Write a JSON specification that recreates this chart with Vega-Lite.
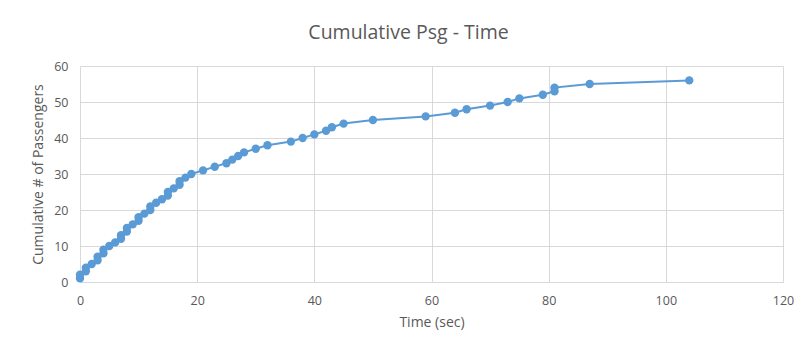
{
  "$schema": "https://vega.github.io/schema/vega-lite/v6.json",
  "width": 703,
  "height": 216,
  "autosize": {"type": "none"},
  "padding": {"left": 80, "top": 66, "right": 20, "bottom": 68},
  "background": "white",
  "title": {
    "text": "Cumulative Psg - Time",
    "font": "Open Sans",
    "fontSize": 19.5,
    "fontWeight": "normal",
    "color": "#595959",
    "anchor": "middle",
    "dx": -23,
    "offset": 17
  },
  "config": {
    "view": {"stroke": null},
    "font": "Open Sans",
    "axis": {
      "gridColor": "#D9D9D9",
      "gridWidth": 1,
      "ticks": false,
      "labelFlush": false,
      "labelColor": "#595959",
      "labelFont": "Open Sans",
      "labelFontSize": 12.5,
      "titleColor": "#595959",
      "titleFont": "Open Sans",
      "titleFontSize": 14,
      "titleFontWeight": "normal"
    }
  },
  "data": {
    "values": [
      {"t": 0, "n": 1}, {"t": 0, "n": 2}, {"t": 1, "n": 3}, {"t": 1, "n": 4},
      {"t": 2, "n": 5}, {"t": 3, "n": 6}, {"t": 3, "n": 7}, {"t": 4, "n": 8},
      {"t": 4, "n": 9}, {"t": 5, "n": 10}, {"t": 6, "n": 11}, {"t": 7, "n": 12},
      {"t": 7, "n": 13}, {"t": 8, "n": 14}, {"t": 8, "n": 15}, {"t": 9, "n": 16},
      {"t": 10, "n": 17}, {"t": 10, "n": 18}, {"t": 11, "n": 19}, {"t": 12, "n": 20},
      {"t": 12, "n": 21}, {"t": 13, "n": 22}, {"t": 14, "n": 23}, {"t": 15, "n": 24},
      {"t": 15, "n": 25}, {"t": 16, "n": 26}, {"t": 17, "n": 27}, {"t": 17, "n": 28},
      {"t": 18, "n": 29}, {"t": 19, "n": 30}, {"t": 21, "n": 31}, {"t": 23, "n": 32},
      {"t": 25, "n": 33}, {"t": 26, "n": 34}, {"t": 27, "n": 35}, {"t": 28, "n": 36},
      {"t": 30, "n": 37}, {"t": 32, "n": 38}, {"t": 36, "n": 39}, {"t": 38, "n": 40},
      {"t": 40, "n": 41}, {"t": 42, "n": 42}, {"t": 43, "n": 43}, {"t": 45, "n": 44},
      {"t": 50, "n": 45}, {"t": 59, "n": 46}, {"t": 64, "n": 47}, {"t": 66, "n": 48},
      {"t": 70, "n": 49}, {"t": 73, "n": 50}, {"t": 75, "n": 51}, {"t": 79, "n": 52},
      {"t": 81, "n": 53}, {"t": 81, "n": 54}, {"t": 87, "n": 55}, {"t": 104, "n": 56}
    ]
  },
  "mark": {
    "type": "line",
    "color": "#5B9BD5",
    "strokeWidth": 2,
    "point": {"filled": true, "size": 70, "color": "#5B9BD5", "opacity": 1}
  },
  "encoding": {
    "x": {
      "field": "t",
      "type": "quantitative",
      "title": "Time (sec)",
      "scale": {"domain": [0, 120], "nice": false},
      "axis": {
        "values": [0, 20, 40, 60, 80, 100, 120],
        "domainColor": "#D9D9D9",
        "labelPadding": 12,
        "titlePadding": 9
      }
    },
    "y": {
      "field": "n",
      "type": "quantitative",
      "title": "Cumulative # of Passengers",
      "scale": {"domain": [0, 60], "nice": false},
      "axis": {
        "values": [0, 10, 20, 30, 40, 50, 60],
        "domain": false,
        "labelPadding": 12,
        "titlePadding": 8
      }
    },
    "order": {"field": "n", "type": "quantitative"}
  }
}
